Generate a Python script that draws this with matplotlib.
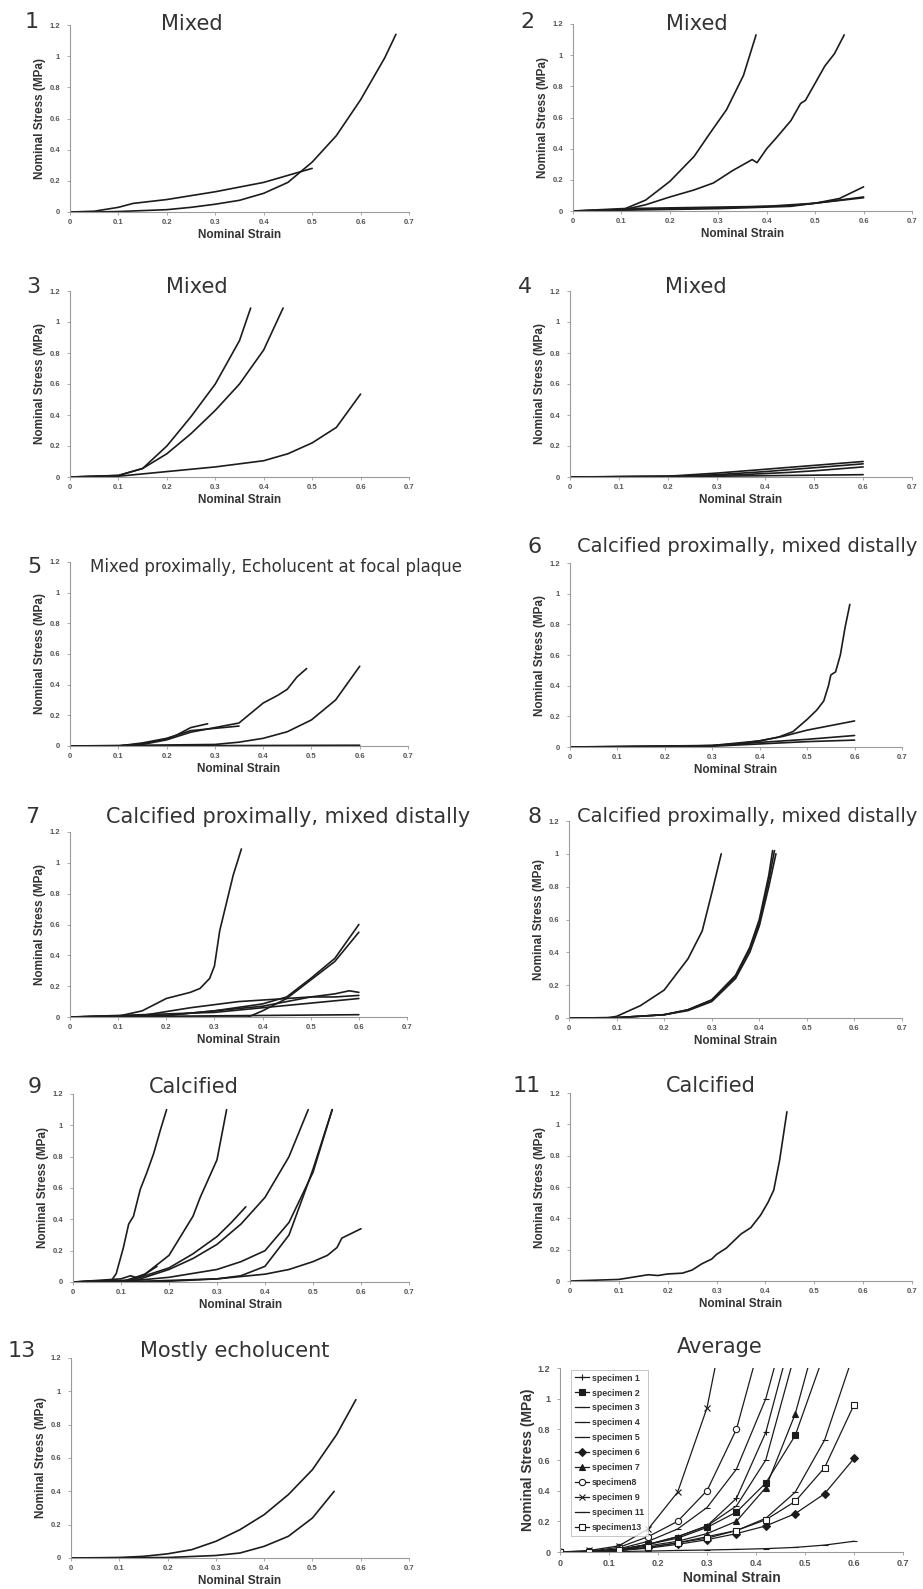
import matplotlib
matplotlib.use("Agg")
import matplotlib.pyplot as plt

# ---- data (strain, stress in MPa) ----
PANEL1 = [
    ([0, 0.05, 0.1, 0.2, 0.25, 0.3, 0.35, 0.4, 0.45, 0.5, 0.55, 0.6, 0.65, 0.673],
     [0, 0.0, 0.003, 0.015, 0.03, 0.05, 0.075, 0.12, 0.19, 0.32, 0.49, 0.72, 0.99, 1.14]),
    ([0, 0.05, 0.1, 0.13, 0.2, 0.3, 0.4, 0.45, 0.5],
     [0, 0.005, 0.03, 0.055, 0.08, 0.13, 0.19, 0.235, 0.28]),
]
PANEL2 = [
    ([0, 0.1, 0.15, 0.2, 0.25, 0.283, 0.317, 0.352, 0.378],
     [0, 0.005, 0.07, 0.19, 0.35, 0.5, 0.65, 0.87, 1.13]),
    ([0, 0.1, 0.15, 0.2, 0.25, 0.29, 0.33, 0.37, 0.38, 0.4, 0.42, 0.45, 0.47, 0.48, 0.5, 0.52, 0.54, 0.56],
     [0, 0.005, 0.04, 0.09, 0.135, 0.18, 0.26, 0.33, 0.31, 0.40, 0.47, 0.58, 0.69, 0.71, 0.82, 0.93, 1.01, 1.13]),
    ([0, 0.1, 0.3, 0.45, 0.5, 0.55, 0.6], [0, 0.005, 0.015, 0.03, 0.05, 0.08, 0.155]),
    ([0, 0.1, 0.3, 0.45, 0.5, 0.55, 0.6], [0, 0.01, 0.02, 0.035, 0.05, 0.07, 0.09]),
    ([0, 0.1, 0.2, 0.4, 0.5, 0.6], [0, 0.015, 0.02, 0.03, 0.05, 0.085]),
]
PANEL3 = [
    ([0, 0.1, 0.15, 0.2, 0.25, 0.3, 0.35, 0.373], [0, 0.01, 0.055, 0.2, 0.39, 0.6, 0.88, 1.09]),
    ([0, 0.1, 0.15, 0.2, 0.25, 0.3, 0.35, 0.4, 0.44], [0, 0.01, 0.055, 0.15, 0.28, 0.43, 0.6, 0.82, 1.09]),
    ([0, 0.1, 0.2, 0.3, 0.4, 0.45, 0.5, 0.55, 0.6], [0, 0.005, 0.035, 0.065, 0.105, 0.15, 0.22, 0.32, 0.535]),
]
PANEL4 = [
    ([0, 0.2, 0.3, 0.4, 0.5, 0.6], [0, 0.005, 0.025, 0.05, 0.075, 0.10]),
    ([0, 0.2, 0.3, 0.4, 0.5, 0.6], [0, 0.003, 0.015, 0.035, 0.06, 0.085]),
    ([0, 0.25, 0.35, 0.45, 0.5, 0.6], [0, 0.005, 0.015, 0.03, 0.04, 0.065]),
    ([0, 0.3, 0.6], [0, 0.005, 0.015]),
]
PANEL5 = [
    ([0, 0.1, 0.15, 0.2, 0.25, 0.3, 0.35, 0.4, 0.43, 0.45, 0.47, 0.49],
     [0, 0.0, 0.01, 0.04, 0.09, 0.12, 0.15, 0.28, 0.33, 0.37, 0.45, 0.505]),
    ([0, 0.1, 0.15, 0.2, 0.22, 0.25, 0.285], [0, 0.0, 0.015, 0.045, 0.07, 0.12, 0.145]),
    ([0, 0.1, 0.15, 0.2, 0.25, 0.3, 0.35], [0, 0.0, 0.02, 0.05, 0.1, 0.115, 0.13]),
    ([0, 0.3, 0.35, 0.4, 0.45, 0.5, 0.55, 0.6], [0, 0.01, 0.025, 0.05, 0.093, 0.17, 0.3, 0.52]),
    ([0, 0.6], [0, 0.005]),
]
PANEL6 = [
    ([0, 0.2, 0.3, 0.35, 0.4, 0.44, 0.47, 0.5, 0.52, 0.535, 0.545, 0.55, 0.56, 0.57, 0.58, 0.59],
     [0, 0.002, 0.01, 0.02, 0.04, 0.065, 0.1, 0.18, 0.24, 0.3, 0.4, 0.47, 0.49, 0.6, 0.78, 0.93]),
    ([0, 0.3, 0.4, 0.45, 0.5, 0.55, 0.6], [0, 0.01, 0.04, 0.07, 0.11, 0.14, 0.17]),
    ([0, 0.3, 0.4, 0.5, 0.6], [0, 0.008, 0.03, 0.05, 0.075]),
    ([0, 0.3, 0.4, 0.5, 0.6], [0, 0.005, 0.02, 0.035, 0.045]),
]
PANEL7 = [
    ([0, 0.1, 0.15, 0.2, 0.25, 0.27, 0.29, 0.30, 0.311, 0.325, 0.339, 0.356],
     [0, 0.005, 0.04, 0.12, 0.16, 0.185, 0.25, 0.33, 0.56, 0.74, 0.92, 1.09]),
    ([0, 0.2, 0.3, 0.4, 0.45, 0.5, 0.55, 0.6], [0, 0.01, 0.04, 0.085, 0.13, 0.25, 0.38, 0.6]),
    ([0, 0.37, 0.4, 0.45, 0.5, 0.55, 0.6], [0, 0.0, 0.04, 0.12, 0.24, 0.36, 0.55]),
    ([0, 0.15, 0.25, 0.3, 0.35, 0.4, 0.45, 0.5, 0.55, 0.58, 0.6],
     [0, 0.01, 0.06, 0.08, 0.1, 0.11, 0.12, 0.13, 0.15, 0.17, 0.16]),
    ([0, 0.2, 0.3, 0.4, 0.5, 0.55, 0.6], [0, 0.01, 0.04, 0.07, 0.13, 0.13, 0.14]),
    ([0, 0.3, 0.4, 0.5, 0.6], [0, 0.03, 0.06, 0.09, 0.12]),
    ([0, 0.6], [0, 0.015]),
]
PANEL8 = [
    ([0, 0.08, 0.1, 0.15, 0.2, 0.25, 0.28, 0.3, 0.32], [0, 0.0, 0.01, 0.075, 0.17, 0.36, 0.53, 0.76, 1.0]),
    ([0, 0.1, 0.2, 0.25, 0.3, 0.35, 0.38, 0.4, 0.42, 0.428], [0, 0.002, 0.02, 0.05, 0.11, 0.26, 0.43, 0.6, 0.87, 1.02]),
    ([0, 0.1, 0.2, 0.25, 0.3, 0.35, 0.38, 0.4, 0.42, 0.432], [0, 0.002, 0.02, 0.05, 0.11, 0.25, 0.42, 0.58, 0.84, 1.02]),
    ([0, 0.1, 0.2, 0.25, 0.3, 0.35, 0.38, 0.4, 0.42, 0.435], [0, 0.002, 0.02, 0.045, 0.1, 0.24, 0.4, 0.56, 0.8, 1.0]),
]
PANEL9 = [
    ([0, 0.08, 0.09, 0.105, 0.116, 0.126, 0.14, 0.154, 0.168, 0.182, 0.195],
     [0, 0.01, 0.053, 0.22, 0.37, 0.42, 0.59, 0.70, 0.82, 0.97, 1.10]),
    ([0, 0.12, 0.15, 0.2, 0.25, 0.265, 0.3, 0.32], [0, 0.01, 0.05, 0.17, 0.42, 0.54, 0.78, 1.1]),
    ([0, 0.12, 0.2, 0.25, 0.3, 0.33, 0.36], [0, 0.01, 0.09, 0.18, 0.29, 0.38, 0.48]),
    ([0, 0.13, 0.2, 0.25, 0.3, 0.35, 0.4, 0.45, 0.49], [0, 0.01, 0.08, 0.15, 0.24, 0.37, 0.54, 0.8, 1.1]),
    ([0, 0.13, 0.2, 0.3, 0.35, 0.4, 0.45, 0.5, 0.54], [0, 0.01, 0.03, 0.08, 0.13, 0.2, 0.38, 0.7, 1.1]),
    ([0, 0.2, 0.3, 0.35, 0.4, 0.45, 0.48, 0.5, 0.54], [0, 0.005, 0.02, 0.04, 0.1, 0.3, 0.55, 0.72, 1.1]),
    ([0, 0.1, 0.3, 0.4, 0.45, 0.5, 0.53, 0.55, 0.56, 0.58, 0.6],
     [0, 0.0, 0.02, 0.05, 0.08, 0.13, 0.17, 0.22, 0.28, 0.31, 0.34]),
    ([0, 0.1, 0.12, 0.15, 0.175], [0, 0.0, 0.02, 0.05, 0.1]),
    ([0, 0.1, 0.12, 0.13], [0, 0.02, 0.04, 0.03]),
]
PANEL11 = [
    ([0, 0.1, 0.13, 0.16, 0.18, 0.2, 0.23, 0.25, 0.27, 0.29, 0.3, 0.32, 0.34, 0.35, 0.37, 0.39, 0.405, 0.417, 0.429, 0.444],
     [0, 0.01, 0.025, 0.04, 0.035, 0.045, 0.05, 0.07, 0.11, 0.14, 0.17, 0.21, 0.27, 0.3, 0.34, 0.42, 0.5, 0.58, 0.77, 1.08]),
]
PANEL13 = [
    ([0, 0.1, 0.15, 0.2, 0.25, 0.3, 0.35, 0.4, 0.45, 0.5, 0.55, 0.59],
     [0, 0.003, 0.01, 0.025, 0.05, 0.1, 0.17, 0.26, 0.38, 0.53, 0.74, 0.95]),
    ([0, 0.2, 0.3, 0.35, 0.4, 0.45, 0.5, 0.545], [0, 0.003, 0.015, 0.03, 0.07, 0.13, 0.24, 0.4]),
]

AVG_STRAIN = [0, 0.06, 0.12, 0.18, 0.24, 0.30, 0.36, 0.42, 0.48, 0.54, 0.60]
AVG_LABELS = ["specimen 1", "specimen 2", "specimen 3", "specimen 4", "specimen 5", "specimen 6",
              "specimen 7", "specimen8", "specimen 9", "specimen 11", "specimen13"]
AVG_MARKERS = ["+", "s", "_", "_", "_", "D", "^", "o", "x", "_", "s"]
AVG_FILLED = [True, True, True, True, True, True, True, False, True, True, False]
AVG_STRESS = [
    [0, 0.002, 0.015, 0.05, 0.1, 0.17, 0.35, 0.78, 1.5],
    [0, 0.003, 0.015, 0.05, 0.09, 0.16, 0.26, 0.45, 0.76, 1.3],
    [0, 0.003, 0.02, 0.07, 0.15, 0.29, 0.54, 1.0, 1.7],
    [0, 0.001, 0.003, 0.006, 0.01, 0.013, 0.017, 0.022, 0.03, 0.045, 0.07],
    [0, 0.002, 0.01, 0.03, 0.06, 0.1, 0.14, 0.22, 0.39, 0.73, 1.3],
    [0, 0.002, 0.01, 0.025, 0.05, 0.08, 0.12, 0.17, 0.25, 0.38, 0.61],
    [0, 0.002, 0.012, 0.04, 0.07, 0.12, 0.2, 0.42, 0.9, 1.6],
    [0, 0.005, 0.03, 0.1, 0.2, 0.4, 0.8, 1.5],
    [0, 0.01, 0.04, 0.15, 0.39, 0.94, 1.9],
    [0, 0.002, 0.015, 0.05, 0.1, 0.17, 0.3, 0.6, 1.3],
    [0, 0.001, 0.01, 0.03, 0.06, 0.09, 0.14, 0.21, 0.33, 0.55, 0.96],
]

W, H = 923, 1589
INK = "#1c1c1c"
GREY = "#555555"

plt.rcParams["font.family"] = ["DejaVu Sans"]

fig = plt.figure(figsize=(W / 100, H / 100), dpi=100)
fig.patch.set_facecolor("white")


def fx(px):
    return px / W


def fy(py):
    return 1 - py / H


def make_axes(box, big=False):
    x0, x1, ytop, ybot = box
    ax = fig.add_axes([fx(x0), fy(ybot), fx(x1 - x0), (ybot - ytop) / H])
    ax.set_xlim(0, 0.7)
    ax.set_ylim(0, 1.2)
    ax.set_xticks([0, 0.1, 0.2, 0.3, 0.4, 0.5, 0.6, 0.7])
    ax.set_xticklabels(["0", "0.1", "0.2", "0.3", "0.4", "0.5", "0.6", "0.7"])
    ax.set_yticks([0, 0.2, 0.4, 0.6, 0.8, 1.0, 1.2])
    ax.set_yticklabels(["0", "0.2", "0.4", "0.6", "0.8", "1", "1.2"])
    for s in ["top", "right"]:
        ax.spines[s].set_visible(False)
    for s in ["left", "bottom"]:
        ax.spines[s].set_color("#9a9a9a")
        ax.spines[s].set_linewidth(0.8)
    tsize = 6.5 if big else 5.5
    ax.tick_params(length=2, width=0.6, color="#9a9a9a", labelsize=tsize, labelcolor=GREY, pad=3)
    ax.tick_params(axis="y", pad=5)
    for lab in ax.get_xticklabels() + ax.get_yticklabels():
        lab.set_fontfamily("Liberation Sans")
        lab.set_fontweight("bold")
    lsize = 10 if big else 8.5
    ax.set_xlabel("Nominal Strain", fontsize=lsize, fontweight="bold", color="#333333",
                  family="Liberation Sans")
    ax.set_ylabel("Nominal Stress (MPa)", fontsize=lsize, fontweight="bold", color="#333333",
                  family="Liberation Sans")
    # label offsets in pixels from the axis lines
    ax.xaxis.set_label_coords(0.5, -(19 if big else 17) / (ybot - ytop))
    ax.yaxis.set_label_coords(-(25 if big else 24) / (x1 - x0), 0.5)
    ax.patch.set_alpha(0)
    return ax


def draw(ax, curves):
    for xs, ys in curves:
        ax.plot(xs, ys, color=INK, lw=1.2, solid_capstyle="round")


panels = [
    (PANEL1, (70, 409, 25, 212), "1", (32, 22), "Mixed", (192, 24), 15),
    (PANEL2, (573, 912, 24, 211), "2", (527, 22), "Mixed", (697, 24), 15),
    (PANEL3, (70, 409, 291, 477), "3", (33, 287), "Mixed", (197, 287), 15),
    (PANEL4, (570, 912, 291, 477), "4", (525, 287), "Mixed", (696, 287), 15),
    (PANEL5, (70, 408, 562, 746), "5", (34, 567), "Mixed proximally, Echolucent at focal plaque", (276, 567), 12),
    (PANEL6, (570, 902, 563, 747), "6", (535, 547), "Calcified proximally, mixed distally", (747, 547), 14),
    (PANEL7, (70, 407, 832, 1017), "7", (32, 817), "Calcified proximally, mixed distally", (288, 817), 15),
    (PANEL8, (569, 902, 821, 1018), "8", (535, 817), "Calcified proximally, mixed distally", (747, 817), 14),
    (PANEL9, (73, 409, 1094, 1282), "9", (35, 1087), "Calcified", (194, 1087), 15),
    (PANEL11, (570, 912, 1093, 1281), "11", (527, 1086), "Calcified", (711, 1086), 15),
    (PANEL13, (71, 409, 1358, 1558), "13", (22, 1351), "Mostly echolucent", (235, 1351), 15),
]

for curves, box, num, num_xy, title, title_xy, tsize in panels:
    ax = make_axes(box)
    draw(ax, curves)
    fig.text(fx(num_xy[0]), fy(num_xy[1]), num, fontsize=16, color="#333333", ha="center", va="center")
    fig.text(fx(title_xy[0]), fy(title_xy[1]), title, fontsize=tsize, color="#333333", ha="center", va="center")

# ---- average panel ----
ax = make_axes((560, 903, 1368, 1552), big=True)
for lab, mk, filled, ys in zip(AVG_LABELS, AVG_MARKERS, AVG_FILLED, AVG_STRESS):
    xs = AVG_STRAIN[:len(ys)]
    ax.plot(xs, ys, color=INK, lw=0.9, marker=mk, markersize=4.5 if mk in "sDo^" else 5,
            markerfacecolor=INK if filled else "white", markeredgecolor=INK, markeredgewidth=0.8,
            label=lab)
leg = ax.legend(loc="upper left", bbox_to_anchor=(0.02, 1.015), frameon=True, fancybox=False,
                handlelength=1.6, handletextpad=0.3, labelspacing=0.68, borderpad=0.45,
                prop={"family": "Liberation Sans", "weight": "bold", "size": 6.3})
leg.get_frame().set_edgecolor("#aaaaaa")
leg.get_frame().set_linewidth(0.6)
for t in leg.get_texts():
    t.set_color("#333333")
fig.text(fx(720), fy(1347), "Average", fontsize=15, color="#333333", ha="center", va="center")

fig.savefig("out.png", dpi=100, facecolor="white")
